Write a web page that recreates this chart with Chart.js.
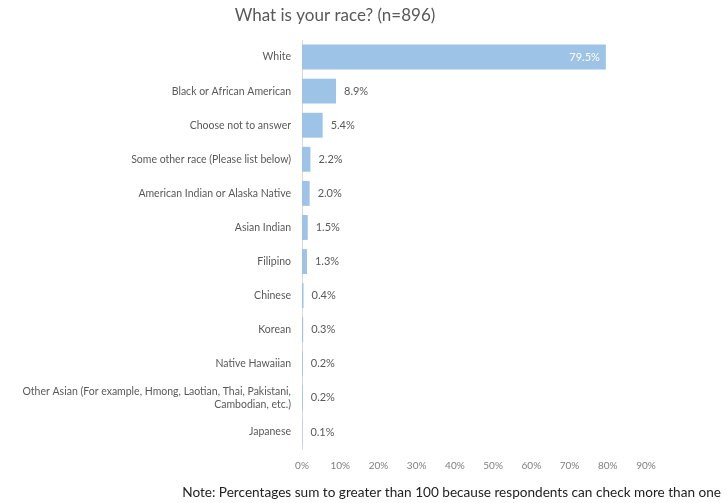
<!DOCTYPE html>
<html>
<head>
<meta charset="utf-8">
<script src="https://cdn.jsdelivr.net/npm/chart.js@4.4.1/dist/chart.umd.min.js"></script>
<style>
  html, body { margin: 0; padding: 0; background: #fff; }
  #wrap { width: 727px; height: 503px; }
</style>
</head>
<body>
<div id="wrap"><canvas id="raceChart" width="727" height="503"></canvas></div>
<script>
// dados do gráfico
const categorias = [
  'White',
  'Black or African American',
  'Choose not to answer',
  'Some other race (Please list below)',
  'American Indian or Alaska Native',
  'Asian Indian',
  'Filipino',
  'Chinese',
  'Korean',
  'Native Hawaiian',
  ['Other Asian (For example, Hmong, Laotian, Thai, Pakistani,', 'Cambodian, etc.)'],
  'Japanese'
];
const valores = [79.5, 8.9, 5.4, 2.2, 2.0, 1.5, 1.3, 0.4, 0.3, 0.2, 0.2, 0.1];
const tituloTexto = 'What is your race? (n=896)';
const notaTexto = 'Note: Percentages sum to greater than 100 because respondents can check more than one';

const fonte = 'Lato';

// rótulos de valor, título e nota
const textosPlugin = {
  id: 'textos',
  afterDatasetsDraw(chart) {
    const ctx = chart.ctx;
    const meta = chart.getDatasetMeta(0);
    ctx.save();
    ctx.font = '11px ' + fonte;
    ctx.textBaseline = 'middle';
    meta.data.forEach((bar, i) => {
      const txt = valores[i].toFixed(1) + '%';
      if (i === 0) {
        ctx.fillStyle = '#ffffff';
        ctx.textAlign = 'right';
        ctx.fillText(txt, bar.x - 6, bar.y);
      } else {
        ctx.fillStyle = '#595959';
        ctx.textAlign = 'left';
        ctx.fillText(txt, bar.x + 8, bar.y);
      }
    });
    // título
    ctx.fillStyle = '#595959';
    ctx.font = '17px ' + fonte;
    ctx.textAlign = 'center';
    ctx.fillText(tituloTexto, 335, 16);
    // nota
    ctx.fillStyle = '#222222';
    ctx.font = '13.6px ' + fonte;
    ctx.textAlign = 'right';
    ctx.fillText(notaTexto, 721, 493);
    ctx.restore();
  }
};

const ctx = document.getElementById('raceChart').getContext('2d');
const grafico = new Chart(ctx, {
  type: 'bar',
  data: {
    labels: categorias,
    datasets: [{
      data: valores,
      backgroundColor: '#9dc3e6',
      borderWidth: 0,
      categoryPercentage: 0.73,
      barPercentage: 1
    }]
  },
  options: {
    indexAxis: 'y',
    responsive: false,
    animation: false,
    layout: { padding: { top: 40, bottom: 29, left: 0, right: 81 } },
    plugins: {
      legend: { display: false },
      tooltip: { enabled: false }
    },
    scales: {
      x: {
        min: 0,
        max: 90,
        grid: { display: false },
        border: { display: false },
        ticks: {
          stepSize: 10,
          padding: 3,
          color: '#7f7f7f',
          font: { family: fonte, size: 10 },
          callback: v => v + '%'
        },
        afterFit(scale) { scale.height = 25; }
      },
      y: {
        grid: { display: false },
        border: { display: true, color: '#d9d9d9', width: 1 },
        ticks: {
          padding: 3,
          color: '#595959',
          font: { family: fonte, size: 10.5 },
          autoSkip: false
        },
        afterFit(scale) { scale.width = 302; }
      }
    }
  },
  plugins: [textosPlugin]
});
</script>
</body>
</html>
